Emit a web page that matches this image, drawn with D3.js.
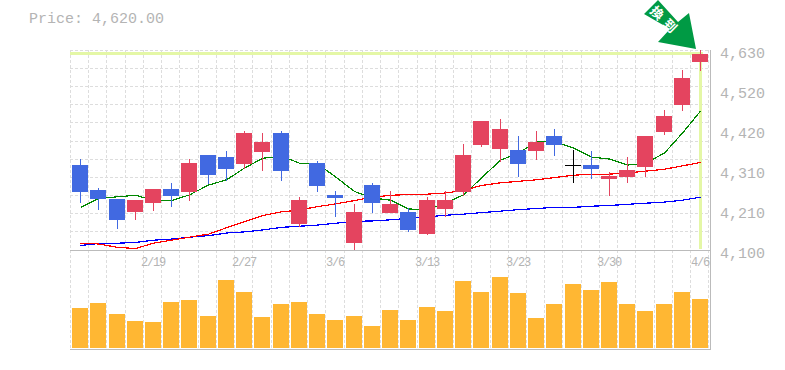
<!DOCTYPE html>
<html>
<head>
<meta charset="utf-8">
<script src="https://cdn.jsdelivr.net/npm/d3@7/dist/d3.min.js"></script>
<style>
  html, body { margin: 0; padding: 0; background: #fff; }
  svg { display: block; }
  text { font-family: "Liberation Mono", monospace; fill: #b4b4b4; }
</style>
</head>
<body>
<div class="container"></div>
<script>
const WIDTH = 785,
    HEIGHT = 370;

const LEFT = 70.9,
    RIGHT = 709.3,
    PRICE_TOP = 50,
    PRICE_BOTTOM = 250,
    VOLUME_TOP = 273,
    VOLUME_BOTTOM = 348;

const TITLE = "Price: 4,620.00";
const ARROW_LABEL = "換到";

const DATES = ["2/13","2/14","2/15","2/16","2/19","2/20","2/21","2/22","2/26","2/27","2/28","3/1","3/2","3/5","3/6","3/7","3/8","3/9","3/12","3/13","3/14","3/15","3/16","3/19","3/23","3/26","3/27","3/28","3/29","3/30","4/2","4/3","4/4","4/5","4/6"];
const DATE_TICKS = ["2/19", "2/27", "3/6", "3/13", "3/23", "3/30", "4/6"];
const PRICE_TICKS = [4100, 4210, 4310, 4420, 4520, 4630];

const OPEN = [4325,4260,4235,4200,4225,4262,4255,4352,4346,4329,4360,4410,4170,4330,4246,4119,4272,4198,4201,4142,4209,4254,4378,4368,4365,4362,4402,4325,4325,4288,4293,4320,4413,4484,4599];
const CLOSE = [4255,4235,4180,4232,4262,4244,4330,4300,4315,4410,4386,4310,4232,4270,4238,4201,4225,4222,4153,4232,4232,4352,4442,4421,4328,4386,4378,4325,4315,4296,4312,4402,4455,4556,4620];
const HIGH = [4341,4265,4235,4232,4262,4278,4341,4352,4362,4415,4410,4415,4240,4336,4256,4222,4278,4256,4211,4240,4256,4381,4442,4447,4402,4415,4421,4365,4362,4307,4346,4402,4471,4577,4630];
const LOW = [4225,4205,4155,4180,4204,4215,4231,4274,4284,4315,4310,4284,4160,4255,4188,4098,4198,4198,4148,4140,4187,4243,4373,4333,4293,4338,4349,4278,4288,4243,4278,4293,4405,4468,4575];

const MA_SHORT = [4213,4236,4241,4245,4232,4231,4246,4272,4286,4317,4343,4349,4330,4328,4294,4255,4238,4232,4209,4206,4225,4246,4291,4338,4357,4387,4387,4370,4346,4341,4325,4330,4357,4410,4468];
const MA_MID = [4118,4116,4107,4104,4118,4126,4134,4142,4159,4175,4191,4201,4206,4215,4222,4231,4240,4245,4247,4248,4251,4258,4271,4278,4282,4286,4292,4298,4301,4301,4304,4309,4314,4323,4332];
const MA_LONG = [4112,4117,4118,4120,4126,4129,4134,4138,4145,4148,4153,4160,4163,4166,4171,4176,4177,4180,4184,4188,4192,4195,4199,4203,4207,4210,4213,4213,4216,4218,4221,4224,4227,4232,4240];

const VOLUME = [40,45,34,27,26,46,48,32,68,56,31,44,46,34,28,32,22,38,28,41,37,67,56,71,55,30,44,64,58,66,44,37,44,56,49];
const VOLUME_MAX = 75;

const UP = "#e4445f",
    DOWN = "#4169e1",
    FLAT = "#000",
    GRID = "#ddd",
    AXIS = "#bbb",
    CROSS = "#e4f7a6",
    ARROW = "#009a44",
    BAR = "#ffb733";

const Translate = (x, y) => "translate(" + x + "," + y + ")";

var xScale = d3.scaleBand()
    .domain(d3.range(DATES.length))
    .range([LEFT, RIGHT])
    .paddingInner(0.12)
    .paddingOuter(0.06);

var step = xScale.step();
var xCenter = i => Math.round(xScale(i) + xScale.bandwidth() / 2);

var yScale = d3.scaleLinear()
    .domain([4100, 4630])
    .range([PRICE_BOTTOM, PRICE_TOP]);

var volumeScale = d3.scaleLinear()
    .domain([0, VOLUME_MAX])
    .range([VOLUME_BOTTOM, VOLUME_TOP]);

var svg = d3.select(".container").append("svg")
    .attr("width", WIDTH)
    .attr("height", HEIGHT);

var drawGrid = function() {
    var g = svg.append("g")
        .attr("stroke", GRID)
        .attr("stroke-dasharray", "3,2")
        .attr("shape-rendering", "crispEdges");

    var edges = d3.range(DATES.length + 1).map(i => Math.round(70 + i * step));
    g.selectAll(".v1").data(edges).join("line")
        .attr("x1", d => d + 0.5).attr("x2", d => d + 0.5)
        .attr("y1", 50).attr("y2", 349);

    var rows = d3.range(0, 11).map(i => Math.round(50 + i * 18.1));
    g.selectAll(".h1").data(rows).join("line")
        .attr("x1", 70).attr("x2", 710)
        .attr("y1", d => d + 0.5).attr("y2", d => d + 0.5);
};

var drawFrame = function() {
    var g = svg.append("g")
        .attr("stroke", AXIS)
        .attr("shape-rendering", "crispEdges");
    g.append("line").attr("x1", 70).attr("x2", 710).attr("y1", 250.5).attr("y2", 250.5).attr("stroke-width", 1);
    g.append("line").attr("x1", 70).attr("x2", 711).attr("y1", 349.5).attr("y2", 349.5).attr("stroke-width", 1.5);
    g.append("line").attr("x1", 710.5).attr("x2", 710.5).attr("y1", 50).attr("y2", 350).attr("stroke-width", 1);
};

var drawCross = function() {
    var last = DATES.length - 1;
    var g = svg.append("g").attr("fill", CROSS);
    g.append("rect")
        .attr("x", 70).attr("width", xCenter(last) + 3 - 70)
        .attr("y", Math.round(yScale(CLOSE[last])) - 2).attr("height", 3);
    g.append("rect")
        .attr("x", xCenter(last) - 1).attr("width", 3)
        .attr("y", Math.round(yScale(CLOSE[last])) - 2).attr("height", 249 - Math.round(yScale(CLOSE[last])) + 2);
};

var candleColor = i => CLOSE[i] > OPEN[i] ? UP : CLOSE[i] < OPEN[i] ? DOWN : FLAT;

var drawCandles = function() {
    var g = svg.append("g").attr("shape-rendering", "crispEdges");
    var idx = d3.range(DATES.length);

    g.selectAll(".wick").data(idx).join("line")
        .attr("x1", i => xCenter(i) + 0.5).attr("x2", i => xCenter(i) + 0.5)
        .attr("y1", i => yScale(HIGH[i])).attr("y2", i => yScale(LOW[i]))
        .attr("stroke", candleColor)
        .attr("stroke-width", 1);

    g.selectAll(".body").data(idx).join("rect")
        .attr("x", i => xCenter(i) - 8)
        .attr("width", 16)
        .attr("y", i => yScale(Math.max(OPEN[i], CLOSE[i])))
        .attr("height", i => Math.max(1, Math.abs(yScale(OPEN[i]) - yScale(CLOSE[i]))))
        .attr("fill", candleColor);
};

var maLine = d3.line()
    .x((d, i) => xCenter(i) + 0.5)
    .y(d => yScale(d));

var drawAverages = function() {
    var g = svg.append("g")
        .attr("fill", "none")
        .attr("stroke-width", 1.2)
        .attr("shape-rendering", "crispEdges");
    g.append("path").attr("d", maLine(MA_LONG)).attr("stroke", "#00f");
    g.append("path").attr("d", maLine(MA_MID)).attr("stroke", "#f00");
    g.append("path").attr("d", maLine(MA_SHORT)).attr("stroke", "#080");
};

var drawVolume = function() {
    svg.append("g").attr("shape-rendering", "crispEdges")
        .selectAll("rect").data(VOLUME).join("rect")
        .attr("x", (d, i) => xCenter(i) - 8)
        .attr("width", 16)
        .attr("y", d => volumeScale(d))
        .attr("height", d => volumeScale(0) - volumeScale(d))
        .attr("fill", BAR);
};

var drawLabels = function() {
    svg.append("text")
        .attr("x", 29).attr("y", 23)
        .style("font-size", "15px")
        .text(TITLE);

    svg.append("g").selectAll("text").data(PRICE_TICKS).join("text")
        .attr("x", 720)
        .attr("y", (d, i) => 258 - i * 40)
        .style("font-size", "15px")
        .text(d3.format(","));

    svg.append("g").selectAll("text").data(DATE_TICKS).join("text")
        .attr("x", d => xCenter(DATES.lastIndexOf(d)))
        .attr("y", 266)
        .attr("text-anchor", "middle")
        .style("font-size", "12px")
        .style("letter-spacing", "-1.2px")
        .text(d => d);
};

var drawArrow = function() {
    // tip sits just above the last candle
    var tipX = xCenter(DATES.length - 1) - 4,
        tipY = yScale(HIGH[DATES.length - 1]) - 1;
    var shape = [[0, 0], [-38, -7], [-26, -20], [-52, -35], [-38, -49], [-18, -27], [-7, -36]];
    var g = svg.append("g").attr("transform", Translate(tipX, tipY));
    g.append("path")
        .attr("d", d3.line()(shape) + "Z")
        .attr("fill", ARROW);
    g.append("text")
        .attr("transform", Translate(-30.5, -28) + " rotate(45)")
        .attr("text-anchor", "middle")
        .attr("dy", 5)
        .style("font-family", '"Noto Sans CJK TC"')
        .style("font-size", "13px")
        .style("font-weight", "bold")
        .style("fill", "#fff")
        .style("letter-spacing", "5px")
        .text(ARROW_LABEL);
};

drawGrid();
drawCross();
drawVolume();
drawAverages();
drawCandles();
drawFrame();
drawLabels();
drawArrow();
</script>
</body>
</html>
